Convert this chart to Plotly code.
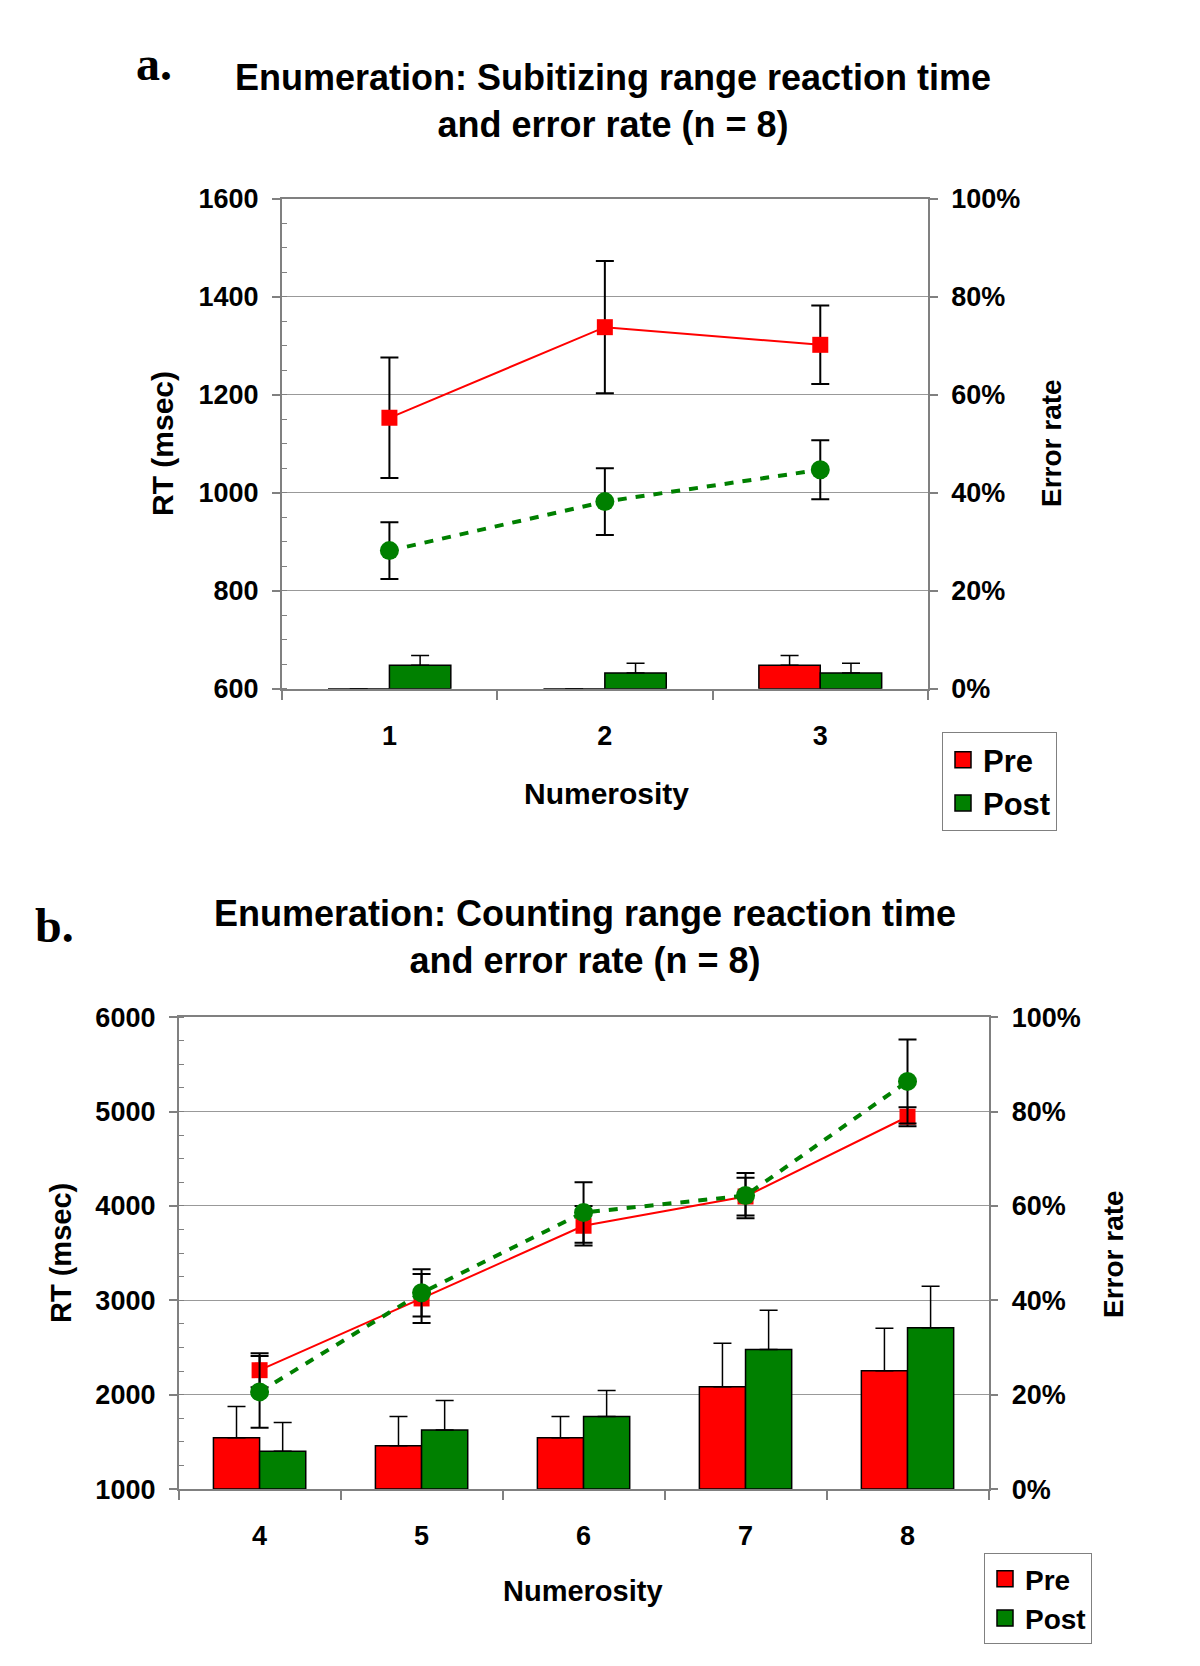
import plotly.graph_objects as go

# ---------------- data ----------------
top_categories = ["1", "2", "3"]
top_rt_pre = [1153, 1338, 1302]
top_rt_pre_sd = [123, 135, 80]
top_rt_post = [882, 982, 1047]
top_rt_post_sd = [58, 68, 60]
top_err_pre = [0, 0, 4.8]
top_err_pre_sd = [None, None, 2.0]
top_err_post = [4.8, 3.2, 3.2]
top_err_post_sd = [2.0, 2.0, 2.0]

bottom_categories = ["4", "5", "6", "7", "8"]
bottom_rt_pre = [2260, 3020, 3790, 4100, 4945]
bottom_rt_pre_sd = [180, 260, 210, 200, 100]
bottom_rt_post = [2030, 3080, 3930, 4110, 5320]
bottom_rt_post_sd = [380, 250, 320, 240, 445]
bottom_err_pre = [10.9, 9.2, 10.9, 21.7, 25.1]
bottom_err_pre_sd = [6.6, 6.2, 4.5, 9.2, 9.0]
bottom_err_post = [8.0, 12.5, 15.4, 29.6, 34.2]
bottom_err_post_sd = [6.1, 6.3, 5.5, 8.3, 8.8]

top_rt_ticks = [600, 800, 1000, 1200, 1400, 1600]
bottom_rt_ticks = [1000, 2000, 3000, 4000, 5000, 6000]
pct_ticks = [0, 20, 40, 60, 80, 100]

# ---------------- style ----------------
W, H = 1200, 1666
SANS = "Liberation Sans, Arial, sans-serif"
SERIF = "Liberation Serif, Times New Roman, serif"
RED = "#FF0000"
GREEN = "#008000"
GRAY = "#808080"


def px(x):
    return x / W


def py(y):
    return 1 - y / H


fig = go.Figure()


def add_panel(xa, ya_pct, ya_rt, cats, rt_pre, rt_pre_sd, rt_post, rt_post_sd,
              er_pre, er_pre_sd, er_post, er_post_sd, legend):
    fig.add_trace(go.Bar(
        x=cats, y=er_pre, name="Pre", xaxis=xa, yaxis=ya_pct, showlegend=False,
        marker=dict(color=RED, line=dict(color="black", width=1.5)),
        error_y=dict(type="data", array=er_pre_sd, arrayminus=[0] * len(cats),
                     symmetric=False, color="black", thickness=1.5, width=9),
    ))
    fig.add_trace(go.Bar(
        x=cats, y=er_post, name="Post", xaxis=xa, yaxis=ya_pct, showlegend=False,
        marker=dict(color=GREEN, line=dict(color="black", width=1.5)),
        error_y=dict(type="data", array=er_post_sd, arrayminus=[0] * len(cats),
                     symmetric=False, color="black", thickness=1.5, width=9),
    ))
    fig.add_trace(go.Scatter(
        x=cats, y=rt_pre, mode="lines+markers", xaxis=xa, yaxis=ya_rt,
        showlegend=False,
        line=dict(color=RED, width=2),
        marker=dict(symbol="square", size=16, color=RED),
        error_y=dict(type="data", array=rt_pre_sd, color="black", thickness=2, width=9),
    ))
    fig.add_trace(go.Scatter(
        x=cats, y=rt_post, mode="lines+markers", xaxis=xa, yaxis=ya_rt,
        showlegend=False,
        line=dict(color=GREEN, width=4, dash="9px,9px"),
        marker=dict(symbol="circle", size=19, color=GREEN),
        error_y=dict(type="data", array=rt_post_sd, color="black", thickness=2, width=9),
    ))
    # legend swatches (bar colours)
    for name, col in (("Pre", RED), ("Post", GREEN)):
        fig.add_trace(go.Scatter(
            x=[None], y=[None], mode="markers", name=name, xaxis=xa, yaxis=ya_pct,
            legend=legend, legendgroup=name,
            marker=dict(symbol="square", size=16, color=col,
                        line=dict(color="black", width=1.5)),
        ))


add_panel("x", "y", "y2", top_categories, top_rt_pre, top_rt_pre_sd, top_rt_post,
          top_rt_post_sd, top_err_pre, top_err_pre_sd, top_err_post, top_err_post_sd,
          "legend")
add_panel("x2", "y3", "y4", bottom_categories, bottom_rt_pre, bottom_rt_pre_sd,
          bottom_rt_post, bottom_rt_post_sd, bottom_err_pre, bottom_err_pre_sd,
          bottom_err_post, bottom_err_post_sd, "legend2")

tickfont = dict(family=SANS, size=27, color="black", weight="bold")

xcommon = dict(type="category", tickson="boundaries", ticks="outside", ticklen=9,
               tickcolor=GRAY, tickwidth=1.5, showline=True, linecolor=GRAY,
               linewidth=1.5, mirror=True, showgrid=False, tickfont=tickfont,
               ticklabelstandoff=22, fixedrange=True, automargin=False)

pct_common = dict(side="right", range=[0, 100], tickvals=pct_ticks,
                  ticktext=[f"{v}%" for v in pct_ticks], ticks="outside", ticklen=8,
                  tickcolor=GRAY, tickwidth=1.5, showline=True, linecolor=GRAY,
                  linewidth=1.5, showgrid=True, gridcolor="#999999", gridwidth=1.2,
                  zeroline=False, tickfont=tickfont, ticklabelstandoff=8,
                  automargin=False)

rt_common = dict(side="left", ticks="outside", ticklen=8, tickcolor=GRAY,
                 tickwidth=1.5, showline=True, linecolor=GRAY, linewidth=1.5,
                 showgrid=False, zeroline=False, tickfont=tickfont,
                 ticklabelstandoff=8, automargin=False)


def legend_style(size, gap):
    return dict(xanchor="left", yanchor="top", bgcolor="white",
                bordercolor=GRAY, borderwidth=1,
                font=dict(family=SANS, size=size, color="black", weight="bold"),
                itemwidth=30, tracegroupgap=gap, traceorder="grouped",
                itemsizing="trace")


fig.update_layout(
    width=W, height=H,
    margin=dict(l=0, r=0, t=0, b=0, autoexpand=False),
    paper_bgcolor="white", plot_bgcolor="white",
    font=dict(family=SANS, color="black", weight="bold"),
    barmode="group", bargap=0.43, bargroupgap=0,
    xaxis=dict(domain=[px(281.7), px(928)], anchor="y", range=[-0.5, 2.5], **xcommon),
    yaxis=dict(domain=[py(688.8), py(198.8)], anchor="x", **pct_common),
    yaxis2=dict(overlaying="y", anchor="x", range=[600, 1600], tickvals=top_rt_ticks,
                minor=dict(dtick=50, tick0=600, ticks="inside", ticklen=6,
                           tickcolor=GRAY, tickwidth=1, showgrid=False),
                **rt_common),
    xaxis2=dict(domain=[px(178.6), px(988.5)], anchor="y3", range=[-0.5, 4.5], **xcommon),
    yaxis3=dict(domain=[py(1489.1), py(1017.2)], anchor="x2", **pct_common),
    yaxis4=dict(overlaying="y3", anchor="x2", range=[1000, 6000],
                tickvals=bottom_rt_ticks,
                minor=dict(dtick=250, tick0=1000, ticks="inside", ticklen=6,
                           tickcolor=GRAY, tickwidth=1, showgrid=False),
                **rt_common),
    legend=dict(x=px(942), y=py(732), **legend_style(31, 0)),
    legend2=dict(x=px(984), y=py(1553), **legend_style(28, 0)),
)

ann = []


def add_text(text, x, y, size, angle=0, family=SANS):
    ann.append(dict(text=text, x=px(x), y=py(y), xref="paper", yref="paper",
                    xanchor="center", yanchor="middle", showarrow=False,
                    textangle=angle,
                    font=dict(family=family, size=size, color="black", weight="bold")))


add_text("a.", 154, 64, 48, family=SERIF)
add_text("Enumeration: Subitizing range reaction time<br>and error rate (n = 8)", 613, 101, 36)
add_text("RT (msec)", 162, 444, 30, angle=-90)
add_text("Error rate", 1052, 443, 28, angle=-90)
add_text("Numerosity", 606, 793, 30)

add_text("b.", 55, 925, 48, family=SERIF)
add_text("Enumeration: Counting range reaction time<br>and error rate (n = 8)", 585, 937, 36)
add_text("RT (msec)", 61, 1253, 29, angle=-90)
add_text("Error rate", 1113, 1254, 28, angle=-90)
add_text("Numerosity", 583, 1591, 29)

fig.update_layout(annotations=ann)

fig.write_html("out.html", config={"displayModeBar": False},
               post_script="document.body.style.margin = '0';")
